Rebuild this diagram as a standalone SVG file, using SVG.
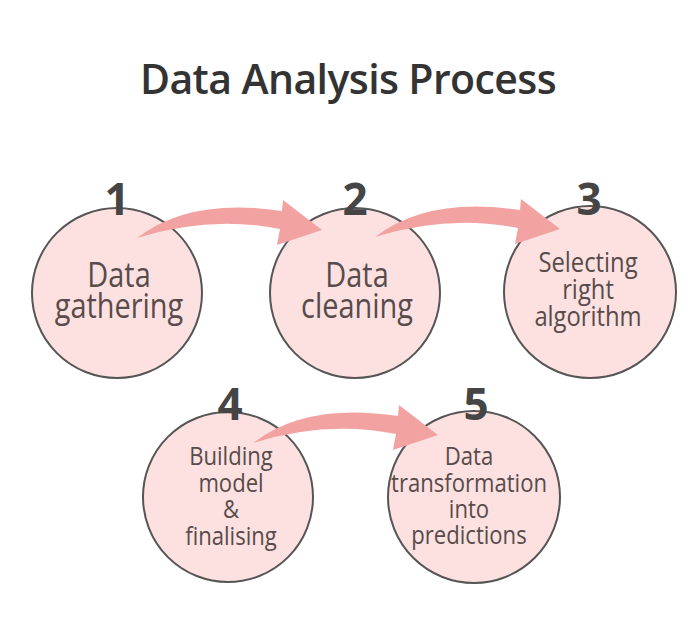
<svg xmlns="http://www.w3.org/2000/svg" width="695" height="638" viewBox="0 0 695 638">
<style>
.bg{fill:#ffffff}
.title{font-family:"Open Sans","Liberation Sans",sans-serif;font-weight:600;font-size:41px;letter-spacing:-0.6px;fill:#333333;text-anchor:middle}
.circ{fill:#fde1e0;stroke:#555555;stroke-width:2}
.num{font-family:"Open Sans","Liberation Sans",sans-serif;font-weight:700;font-size:44px;fill:#454545;text-anchor:middle}
.lbl{font-family:"Open Sans","Liberation Sans",sans-serif;font-weight:400;fill:#574b4b;text-anchor:middle}
.big{font-size:34px}
.mid{font-size:28px}
.sm{font-size:26px}
.arrow{fill:#f3a2a2}
</style>
<defs>
<path id="arr" d="M137,238 Q190,197 282,211 L283,200 L322,230 L277,245 L280,229 Q210,215 137,238 Z"/>
</defs>
<rect class="bg" x="0" y="0" width="695" height="638"/>
<text class="title" x="348" y="94">Data Analysis Process</text>

<g id="node1">
<circle class="circ" cx="117" cy="293" r="85"/>
<text class="num" x="117" y="215">1</text>
<text class="lbl big" transform="translate(119,0) scale(0.85,1)"><tspan x="0" y="287">Data</tspan><tspan x="0" y="318">gathering</tspan></text>
</g>
<g id="node2">
<circle class="circ" cx="355" cy="293" r="85"/>
<text class="num" x="355" y="215">2</text>
<text class="lbl big" transform="translate(357,0) scale(0.85,1)"><tspan x="0" y="287">Data</tspan><tspan x="0" y="318">cleaning</tspan></text>
</g>
<g id="node3">
<circle class="circ" cx="590" cy="292" r="86"/>
<text class="num" x="589" y="215">3</text>
<text class="lbl mid" transform="translate(588,0) scale(0.85,1)"><tspan x="0" y="272">Selecting</tspan><tspan x="0" y="299">right</tspan><tspan x="0" y="326">algorithm</tspan></text>
</g>
<g id="node4">
<circle class="circ" cx="228" cy="497" r="85"/>
<text class="num" x="230" y="420">4</text>
<text class="lbl sm" transform="translate(231,0) scale(0.85,1)"><tspan x="0" y="465">Building</tspan><tspan x="0" y="492">model</tspan><tspan x="0" y="518">&amp;</tspan><tspan x="0" y="545">finalising</tspan></text>
</g>
<g id="node5">
<circle class="circ" cx="474" cy="497" r="86"/>
<text class="num" x="476" y="420">5</text>
<text class="lbl sm" transform="translate(469,0) scale(0.85,1)"><tspan x="0" y="465">Data</tspan><tspan x="0" y="492">transformation</tspan><tspan x="0" y="518">into</tspan><tspan x="0" y="544">predictions</tspan></text>
</g>

<g id="connectors">
<use href="#arr" class="arrow"/>
<use href="#arr" class="arrow" transform="translate(238,-1)"/>
<use href="#arr" class="arrow" transform="translate(116,205)"/>
</g>
</svg>
